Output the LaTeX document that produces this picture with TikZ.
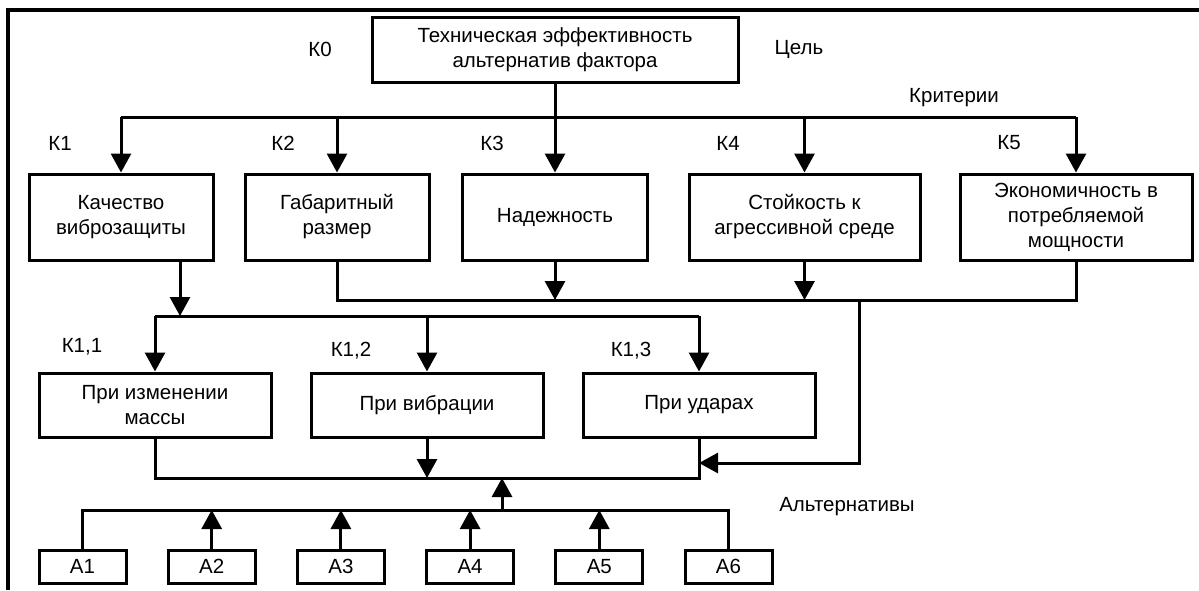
\documentclass[tikz,border=0pt]{standalone}
\usepackage{fontspec}
\setmainfont{Liberation Sans}
\usetikzlibrary{arrows.meta}
\tikzset{
    crit_box/.style={
        draw,
        line width=3pt,
        align=center,
        inner sep=2pt,
        font=\fontsize{20.5}{25}\selectfont
    },
    alt_box/.style={
        crit_box,
        minimum width=87pt,
        minimum height=33pt
    },
    tag_label/.style={
        font=\fontsize{20.5}{25}\selectfont,
        inner sep=0pt
    },
    link/.style={
        line width=3pt
    },
    bus_arrow/.style={
        link,
        -{Triangle[length=19pt,width=20pt]}
    }
}

\begin{document}
\begin{tikzpicture}[x=1pt, y=-1pt]
    \useasboundingbox (0,0) rectangle (1199,590);
    \draw[line width=4pt] (8,590) -- (8,10) -- (1199,10);

    % goal
    \node[crit_box, minimum width=366pt, minimum height=65pt] (k0) at (555,49.5)
        {Техническая эффективность\\альтернатив фактора};

    % criteria
    \node[crit_box, minimum width=184pt, minimum height=86pt] (b1) at (121,217) {Качество\\виброзащиты};
    \node[crit_box, minimum width=184pt, minimum height=86pt] (b2) at (337,217) {Габаритный\\размер};
    \node[crit_box, minimum width=185pt, minimum height=86pt] (b3) at (555,217) {Надежность};
    \node[crit_box, minimum width=231pt, minimum height=86pt] (b4) at (804.5,217) {Стойкость к\\агрессивной среде};
    \node[crit_box, minimum width=232pt, minimum height=86pt] (b5) at (1076,217) {Экономичность в\\потребляемой\\мощности};

    % sub-criteria
    \node[crit_box, minimum width=232pt, minimum height=64pt] (c1) at (155,405) {При изменении\\массы};
    \node[crit_box, minimum width=232pt, minimum height=64pt] (c2) at (427,405) {При вибрации};
    \node[crit_box, minimum width=232pt, minimum height=64pt] (c3) at (699,405) {При ударах};

    % alternatives
    \foreach \i in {1,...,6}
        \node[alt_box] (a\i) at ({82.5+129.2*(\i-1)},566.5) {А\i};

    % labels
    \node[tag_label] (l_k0) at (320,49) {К0};
    \node[tag_label] (l_goal) at (799,49) {Цель};
    \node[tag_label] (l_crit) at (954,98) {Критерии};
    \node[tag_label] (l_k1) at (60,143) {К1};
    \node[tag_label] (l_k2) at (283,143) {К2};
    \node[tag_label] (l_k3) at (492,143) {К3};
    \node[tag_label] (l_k4) at (728,143) {К4};
    \node[tag_label] (l_k5) at (1009,143) {К5};
    \node[tag_label] (l_k11) at (82,347) {К1,1};
    \node[tag_label] (l_k12) at (351,351) {К1,2};
    \node[tag_label] (l_k13) at (631,351) {К1,3};
    \node[tag_label] (l_alt) at (847,507) {Альтернативы};

    % bus levels
    \coordinate (top_bus) at (0,117);
    \coordinate (mid_bus) at (0,300);
    \coordinate (k1_bus) at (0,316);
    \coordinate (side_bus) at (0,463);
    \coordinate (low_bus) at (0,478);
    \coordinate (alt_bus) at (0,510);
    \coordinate (b1_out) at (180,260);
    \coordinate (drop) at (859,300);
    \coordinate (join) at (502,0);

    % goal to criteria
    \draw[link] (b1.north |- top_bus) -- (b5.north |- top_bus);
    \draw[bus_arrow] (k0.south) -- (b3.north);
    \foreach \b in {b1,b2,b4,b5}
        \draw[bus_arrow] (\b.north |- top_bus) -- (\b.north);

    % criteria to sub-criteria
    \draw[bus_arrow] (b1_out) -- (b1_out |- k1_bus);
    \draw[link] (c1.north |- k1_bus) -- (c3.north |- k1_bus);
    \foreach \c in {c1,c2,c3}
        \draw[bus_arrow] (\c.north |- k1_bus) -- (\c.north);

    % other criteria
    \draw[link] (b2.south) -- (b2.south |- mid_bus) -- (b5.south |- mid_bus) -- (b5.south);
    \draw[bus_arrow] (b3.south) -- (b3.south |- mid_bus);
    \draw[bus_arrow] (b4.south) -- (b4.south |- mid_bus);
    \draw[bus_arrow] (drop) |- (c3.south |- side_bus);

    % sub-criteria to alternatives
    \draw[link] (c1.south) -- (c1.south |- low_bus) -- (c3.south |- low_bus) -- (c3.south);
    \draw[bus_arrow] (c2.south) -- (c2.south |- low_bus);
    \draw[bus_arrow] (join |- alt_bus) -- (join |- low_bus);
    \draw[link] (a1.north) -- (a1.north |- alt_bus) -- (a6.north |- alt_bus) -- (a6.north);
    \foreach \i in {2,...,5}
        \draw[bus_arrow] (a\i.north) -- (a\i.north |- alt_bus);
\end{tikzpicture}
\end{document}
